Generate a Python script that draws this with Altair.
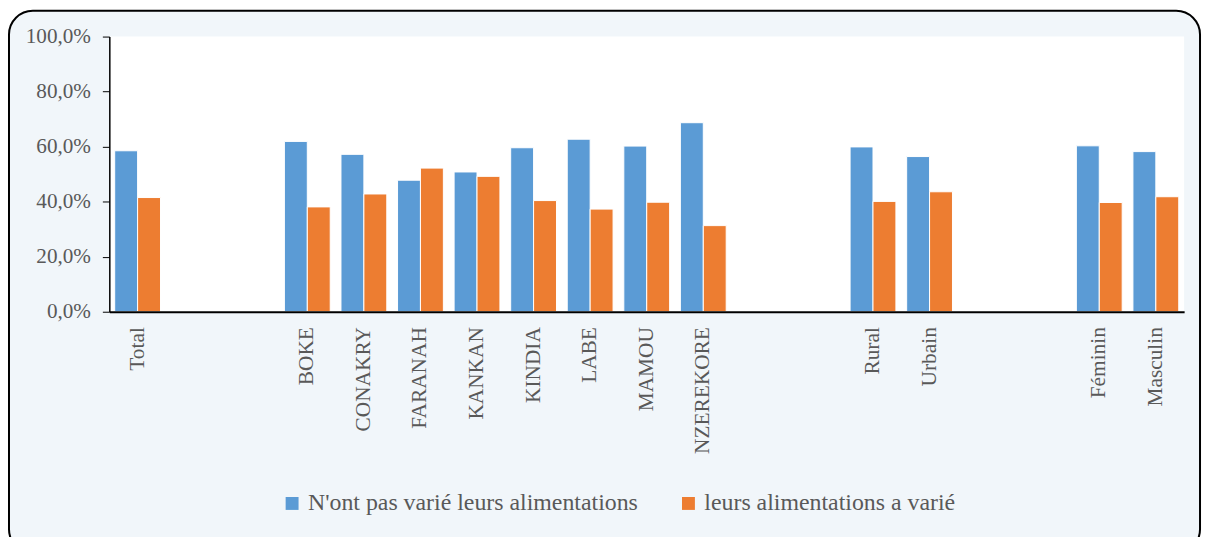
import altair as alt
import pandas as pd

categories = ["Total", "BOKE", "CONAKRY", "FARANAH", "KANKAN", "KINDIA", "LABE",
              "MAMOU", "NZEREKORE", "Rural", "Urbain", "Féminin", "Masculin"]
pas_varie = [58.5, 61.9, 57.2, 47.8, 50.8, 59.6, 62.7, 60.2, 68.7, 59.9, 56.4, 60.3, 58.2]
varie = [41.5, 38.1, 42.8, 52.2, 49.2, 40.4, 37.3, 39.8, 31.3, 40.1, 43.6, 39.7, 41.8]
series = ["N'ont pas varié leurs alimentations", "leurs alimentations a varié"]
colors = ["#5b9bd5", "#ed7d31"]

# category slots, with empty slots separating the groups
domain = ["Total", " ", "  ", "BOKE", "CONAKRY", "FARANAH", "KANKAN", "KINDIA", "LABE",
          "MAMOU", "NZEREKORE", "   ", "    ", "Rural", "Urbain", "     ", "      ",
          "Féminin", "Masculin"]

rows = []
for c, a, b in zip(categories, pas_varie, varie):
    rows.append({"cat": c, "serie": series[0], "val": a / 100})
    rows.append({"cat": c, "serie": series[1], "val": b / 100})
df = pd.DataFrame(rows)

FONT = "Liberation Serif"
LEG_FONT = "Liberation Serif, Times New Roman, serif"
GREY = "#595959"

frame = alt.Chart(pd.DataFrame({"a": [0]})).mark_rect(
    fill="#f1f6fa", stroke="black", strokeWidth=2, cornerRadius=24
).encode(
    x=alt.value(-101), x2=alt.value(1098), y=alt.value(-26), y2=alt.value(520)
)

plotbg = alt.Chart(pd.DataFrame({"a": [0]})).mark_rect(fill="white").encode(
    x=alt.value(0), x2=alt.value(1082), y=alt.value(0), y2=alt.value(277)
)

bars = alt.Chart(df).mark_bar(stroke="white", strokeWidth=1).encode(
    x=alt.X("cat:N", sort=domain,
            scale=alt.Scale(domain=domain, paddingInner=0.19, paddingOuter=0.095),
            axis=alt.Axis(title=None, labelAngle=-90, labelAlign="right",
                          labelBaseline="middle", ticks=False, labelPadding=15,
                          labelFont=FONT, labelFontSize=21.5, labelColor=GREY,
                          domainColor="black", domainWidth=2, zindex=2)),
    xOffset=alt.XOffset("serie:N", sort=series, scale=alt.Scale(domain=series)),
    y=alt.Y("val:Q", scale=alt.Scale(domain=[0, 1]),
            axis=alt.Axis(title=None, values=[0, 0.2, 0.4, 0.6, 0.8, 1.0],
                          labelExpr="replace(format(datum.value, '.1%'), '.', ',')",
                          labelFont=FONT, labelFontSize=21.3, labelColor=GREY,
                          domainColor="black", domainWidth=1.5, tickColor="black",
                          tickSize=7, labelPadding=12, grid=False, zindex=2)),
    color=alt.Color("serie:N", sort=series,
                    scale=alt.Scale(domain=series, range=colors),
                    legend=alt.Legend(title=None, orient="none", legendX=172, legendY=458,
                                      direction="horizontal", symbolType="square",
                                      symbolSize=169, symbolStrokeWidth=0,
                                      labelFont=LEG_FONT, labelFontSize=24, labelColor=GREY,
                                      labelOffset=4, columnPadding=38, labelLimit=600)),
)

chart = alt.layer(frame, plotbg, bars).properties(
    width=1082, height=277,
    padding={"left": 102, "top": 27, "right": 19, "bottom": 225},
    autosize=alt.AutoSizeParams(type="none"),
    background="white",
).configure(
    font=FONT, style={"guide-label": {"font": FONT}}
).configure_view(stroke=None).configure_legend(labelFont=LEG_FONT)

chart.save("out.html", embed_options={"renderer": "svg", "actions": False})
